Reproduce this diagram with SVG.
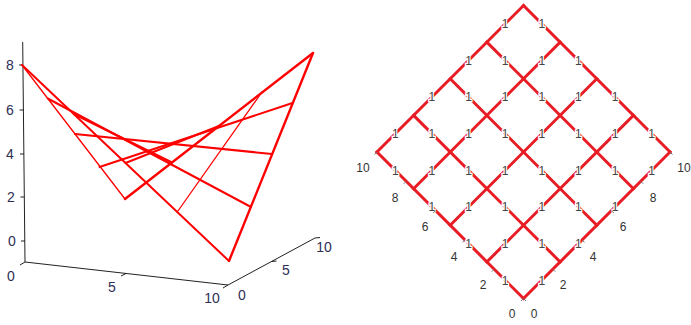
<svg xmlns="http://www.w3.org/2000/svg" width="691" height="325" viewBox="0 0 691 325">
<style>
.ax{stroke:#222;stroke-width:1;fill:none}
.tk{stroke:#222;stroke-width:1}
.al{font-family:"Liberation Sans",Arial,sans-serif;font-size:14px;fill:#2e2e55;text-anchor:middle}
.r{stroke:#ff0000;stroke-width:2;fill:none;stroke-linecap:round}
.rt{stroke:#ff0000;stroke-width:1.3;fill:none;stroke-linecap:round}
.g{stroke:#e81c24;stroke-width:3;fill:none;stroke-linecap:square}
.one{font-family:"Liberation Sans",Arial,sans-serif;font-size:12px;fill:#444;text-anchor:middle;stroke:#fff;stroke-width:2.5;paint-order:stroke}
.dl{font-family:"Liberation Sans",Arial,sans-serif;font-size:12px;fill:#333;text-anchor:middle}
.dt{stroke:#777;stroke-width:1}
</style>
<rect width="691" height="325" fill="#fff"/>
<g id="plot3d">
  <g id="axes3d">
    <line class="ax" x1="22.7" y1="42" x2="25" y2="262"/>
    <line class="ax" x1="25" y1="262" x2="228" y2="285"/>
    <line class="ax" x1="228" y1="285" x2="315" y2="238"/>
    <line class="tk" x1="19" y1="65" x2="23" y2="65"/>
    <line class="tk" x1="19.5" y1="110" x2="23.5" y2="110"/>
    <line class="tk" x1="20" y1="154" x2="24" y2="154"/>
    <line class="tk" x1="20.5" y1="197" x2="24.5" y2="197"/>
    <line class="tk" x1="21" y1="241" x2="25" y2="241"/>
    <line class="tk" x1="25" y1="262" x2="20" y2="265"/>
    <line class="tk" x1="126" y1="273.5" x2="121" y2="276"/>
    <line class="tk" x1="228" y1="285" x2="223" y2="288"/>
    <line class="tk" x1="271.5" y1="261.5" x2="276.5" y2="261"/>
    <line class="tk" x1="315" y1="238" x2="320" y2="237.5"/>
    <text class="al" x="10" y="70">8</text>
    <text class="al" x="10" y="115">6</text>
    <text class="al" x="10" y="159">4</text>
    <text class="al" x="11" y="202">2</text>
    <text class="al" x="12" y="246">0</text>
    <text class="al" x="11" y="281">0</text>
    <text class="al" x="112" y="292">5</text>
    <text class="al" x="212" y="303">10</text>
    <text class="al" x="242" y="300">0</text>
    <text class="al" x="286" y="275">5</text>
    <text class="al" x="324" y="252">10</text>
  </g>
  <g id="surface">
    <line class="rt" x1="22" y1="65" x2="125" y2="199"/>
    <line class="r" x1="22" y1="65" x2="229" y2="261"/>
    <line class="r" x1="229" y1="261" x2="313" y2="53" style="stroke-width:2.4"/>
    <line class="r" x1="125" y1="199" x2="313" y2="53" style="stroke-width:2.4"/>
    <line class="r" x1="73.75" y1="114" x2="172" y2="162.5"/>
    <line class="r" x1="125.5" y1="163" x2="219" y2="126"/>
    <line class="rt" x1="177.25" y1="212" x2="262" y2="92"/>
    <line class="r" x1="47.75" y1="98.5" x2="251" y2="207"/>
    <line class="r" x1="75" y1="134" x2="272" y2="154"/>
    <line class="r" x1="99.5" y1="167" x2="292.5" y2="103"/>
  </g>
</g>
<g id="lattice">
  <g id="grid">
    <line class="g" x1="523.5" y1="5.5" x2="670" y2="152"/>
    <line class="g" x1="486.875" y1="42.125" x2="633.375" y2="188.625"/>
    <line class="g" x1="450.25" y1="78.75" x2="596.75" y2="225.25"/>
    <line class="g" x1="413.625" y1="115.375" x2="560.125" y2="261.875"/>
    <line class="g" x1="377" y1="152" x2="523.5" y2="298.5"/>
    <line class="g" x1="523.5" y1="5.5" x2="377" y2="152"/>
    <line class="g" x1="560.125" y1="42.125" x2="413.625" y2="188.625"/>
    <line class="g" x1="596.75" y1="78.75" x2="450.25" y2="225.25"/>
    <line class="g" x1="633.375" y1="115.375" x2="486.875" y2="261.875"/>
    <line class="g" x1="670" y1="152" x2="523.5" y2="298.5"/>
  </g>
  <g id="weights">
    <text class="one" x="541.8" y="28.1">1</text>
    <text class="one" x="578.4" y="64.7">1</text>
    <text class="one" x="615.1" y="101.4">1</text>
    <text class="one" x="651.7" y="138">1</text>
    <text class="one" x="505.2" y="64.7">1</text>
    <text class="one" x="541.8" y="101.4">1</text>
    <text class="one" x="578.4" y="138">1</text>
    <text class="one" x="615.1" y="174.6">1</text>
    <text class="one" x="468.6" y="101.4">1</text>
    <text class="one" x="505.2" y="138">1</text>
    <text class="one" x="541.8" y="174.6">1</text>
    <text class="one" x="578.4" y="211.2">1</text>
    <text class="one" x="431.9" y="138">1</text>
    <text class="one" x="468.6" y="174.6">1</text>
    <text class="one" x="505.2" y="211.2">1</text>
    <text class="one" x="541.8" y="247.9">1</text>
    <text class="one" x="395.3" y="174.6">1</text>
    <text class="one" x="431.9" y="211.2">1</text>
    <text class="one" x="468.6" y="247.9">1</text>
    <text class="one" x="505.2" y="284.5">1</text>
    <text class="one" x="505.2" y="28.1">1</text>
    <text class="one" x="468.6" y="64.7">1</text>
    <text class="one" x="431.9" y="101.4">1</text>
    <text class="one" x="395.3" y="138">1</text>
    <text class="one" x="541.8" y="64.7">1</text>
    <text class="one" x="505.2" y="101.4">1</text>
    <text class="one" x="468.6" y="138">1</text>
    <text class="one" x="431.9" y="174.6">1</text>
    <text class="one" x="578.4" y="101.4">1</text>
    <text class="one" x="541.8" y="138">1</text>
    <text class="one" x="505.2" y="174.6">1</text>
    <text class="one" x="468.6" y="211.2">1</text>
    <text class="one" x="615.1" y="138">1</text>
    <text class="one" x="578.4" y="174.6">1</text>
    <text class="one" x="541.8" y="211.2">1</text>
    <text class="one" x="505.2" y="247.9">1</text>
    <text class="one" x="651.7" y="174.6">1</text>
    <text class="one" x="615.1" y="211.2">1</text>
    <text class="one" x="578.4" y="247.9">1</text>
    <text class="one" x="541.8" y="284.5">1</text>
  </g>
  <g id="lattice-axes">
    <line class="dt" x1="523.5" y1="298.5" x2="521" y2="301"/>
    <line class="dt" x1="494.2" y1="269.2" x2="491.7" y2="271.7"/>
    <line class="dt" x1="464.9" y1="239.9" x2="462.4" y2="242.4"/>
    <line class="dt" x1="435.6" y1="210.6" x2="433.1" y2="213.1"/>
    <line class="dt" x1="406.3" y1="181.3" x2="403.8" y2="183.8"/>
    <line class="dt" x1="377" y1="152" x2="374.5" y2="154.5"/>
    <line class="dt" x1="523.5" y1="298.5" x2="526" y2="301"/>
    <line class="dt" x1="552.8" y1="269.2" x2="555.3" y2="271.7"/>
    <line class="dt" x1="582.1" y1="239.9" x2="584.6" y2="242.4"/>
    <line class="dt" x1="611.4" y1="210.6" x2="613.9" y2="213.1"/>
    <line class="dt" x1="640.7" y1="181.3" x2="643.2" y2="183.8"/>
    <line class="dt" x1="670" y1="152" x2="672.5" y2="154.5"/>
    <text class="dl" x="363" y="172">10</text>
    <text class="dl" x="395" y="202">8</text>
    <text class="dl" x="425" y="231">6</text>
    <text class="dl" x="454" y="261">4</text>
    <text class="dl" x="483" y="289">2</text>
    <text class="dl" x="512" y="318">0</text>
    <text class="dl" x="684" y="172">10</text>
    <text class="dl" x="653" y="202">8</text>
    <text class="dl" x="623" y="231">6</text>
    <text class="dl" x="593" y="261">4</text>
    <text class="dl" x="563" y="289">2</text>
    <text class="dl" x="534" y="318">0</text>
  </g>
</g>
</svg>
